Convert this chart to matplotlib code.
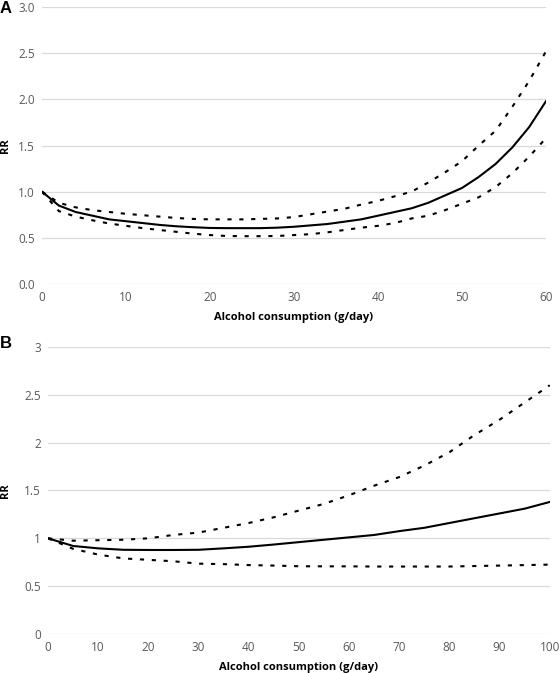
import matplotlib
matplotlib.use("Agg")
import matplotlib.pyplot as plt

# panel A data (x every 2 g/day)
dose_a = list(range(0, 61, 2))
rr_a = [1.00, 0.85, 0.78, 0.74, 0.70, 0.68, 0.66, 0.64, 0.625, 0.615, 0.607,
        0.605, 0.605, 0.605, 0.61, 0.62, 0.635, 0.65, 0.675, 0.70, 0.74,
        0.78, 0.82, 0.88, 0.96, 1.04, 1.16, 1.30, 1.48, 1.70, 1.98]
upper_a = [1.00, 0.88, 0.83, 0.80, 0.78, 0.76, 0.745, 0.73, 0.715, 0.705, 0.70,
           0.70, 0.70, 0.705, 0.71, 0.725, 0.755, 0.785, 0.815, 0.86, 0.90,
           0.95, 1.00, 1.10, 1.21, 1.33, 1.50, 1.66, 1.92, 2.20, 2.52]
lower_a = [1.00, 0.79, 0.73, 0.69, 0.655, 0.63, 0.605, 0.585, 0.565, 0.545, 0.53,
           0.52, 0.518, 0.518, 0.52, 0.53, 0.54, 0.56, 0.585, 0.61, 0.63,
           0.66, 0.71, 0.74, 0.80, 0.87, 0.94, 1.05, 1.20, 1.38, 1.58]

# panel B data (x every 5 g/day)
dose_b = list(range(0, 101, 5))
rr_b = [1.00, 0.92, 0.895, 0.88, 0.878, 0.878, 0.88, 0.895, 0.912, 0.935, 0.96,
        0.985, 1.01, 1.035, 1.075, 1.11, 1.16, 1.21, 1.26, 1.31, 1.38]
upper_b = [1.00, 0.975, 0.98, 0.985, 1.00, 1.035, 1.06, 1.11, 1.16, 1.22, 1.29,
           1.36, 1.45, 1.55, 1.64, 1.76, 1.90, 2.08, 2.24, 2.42, 2.60]
lower_b = [1.00, 0.89, 0.83, 0.79, 0.775, 0.76, 0.735, 0.73, 0.72, 0.715, 0.708,
           0.707, 0.707, 0.705, 0.705, 0.705, 0.705, 0.71, 0.715, 0.72, 0.725]

yticks_a = [0.0, 0.5, 1.0, 1.5, 2.0, 2.5, 3.0]
yticks_b = [0, 0.5, 1, 1.5, 2, 2.5, 3]
xticks_a = list(range(0, 61, 10))
xticks_b = list(range(0, 101, 10))

plt.rcParams["font.family"] = ["Open Sans", "DejaVu Sans"]
grid_col = "#d9d9d9"
label_col = "#595959"
dots = (0, (2, 3.7))

fig = plt.figure(figsize=(5.6, 6.73), dpi=100)
ax_a = fig.add_axes([0.075, 0.578, 0.9, 0.4116])
ax_b = fig.add_axes([0.0857, 0.058, 0.896, 0.4264])


def style(ax, xmax, yticks, ylabels, xticks, ylab_x):
    ax.set_xlim(0, xmax)
    ax.set_ylim(0, 3)
    ax.set_yticks(yticks)
    ax.set_yticklabels(ylabels)
    ax.set_xticks(xticks)
    for s in ax.spines.values():
        s.set_visible(False)
    ax.grid(axis="y", color=grid_col, lw=0.9)
    ax.set_axisbelow(True)
    ax.tick_params(length=0, labelsize=8.5, labelcolor=label_col, pad=5)
    ax.set_xlabel("Alcohol consumption (g/day)", fontsize=8, fontweight="bold", labelpad=6)
    ax.set_ylabel("RR", fontsize=8, fontweight="bold")
    ax.yaxis.set_label_coords(ylab_x, 0.5)


ax_a.plot(dose_a, rr_a, color="black", lw=1.5)
ax_a.plot(dose_a, upper_a, color="black", lw=1.5, ls=dots)
ax_a.plot(dose_a, lower_a, color="black", lw=1.5, ls=dots)
style(ax_a, 60, yticks_a, [f"{v:.1f}" for v in yticks_a], xticks_a, -0.062)

ax_b.plot(dose_b, rr_b, color="black", lw=1.5)
ax_b.plot(dose_b, upper_b, color="black", lw=1.5, ls=dots)
ax_b.plot(dose_b, lower_b, color="black", lw=1.5, ls=dots)
style(ax_b, 100, yticks_b, [f"{v:g}" for v in yticks_b], xticks_b, -0.074)

fig.text(0.0, 0.988, "A", fontsize=12, fontweight="bold", family="Liberation Sans", va="center")
fig.text(0.0, 0.49, "B", fontsize=12, fontweight="bold", family="Liberation Sans", va="center")

fig.savefig("out.png", dpi=100)
